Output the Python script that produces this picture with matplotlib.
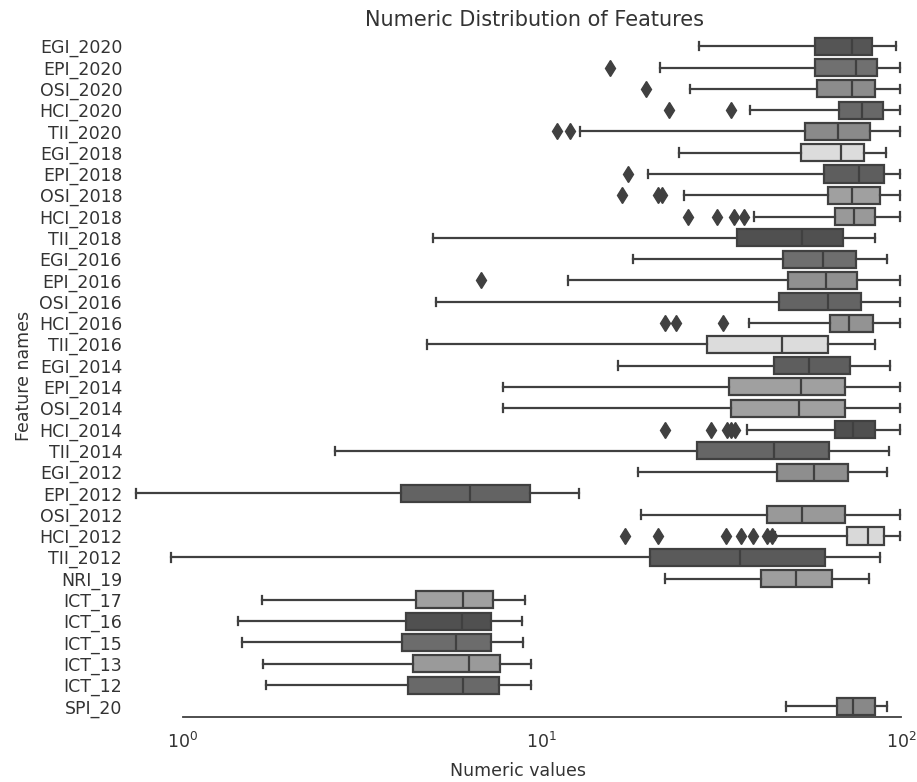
import matplotlib.pyplot as plt

# Feature names, top to bottom
features = ['EGI_2020', 'EPI_2020', 'OSI_2020', 'HCI_2020', 'TII_2020',
            'EGI_2018', 'EPI_2018', 'OSI_2018', 'HCI_2018', 'TII_2018',
            'EGI_2016', 'EPI_2016', 'OSI_2016', 'HCI_2016', 'TII_2016',
            'EGI_2014', 'EPI_2014', 'OSI_2014', 'HCI_2014', 'TII_2014',
            'EGI_2012', 'EPI_2012', 'OSI_2012', 'HCI_2012', 'TII_2012',
            'NRI_19', 'ICT_17', 'ICT_16', 'ICT_15', 'ICT_13', 'ICT_12', 'SPI_20']

# Box statistics
whis_lo = [27.4, 21.3, 25.8, 37.9, 12.8, 24.1, 19.7, 24.9, 39.0, 4.98,
           18.0, 11.8, 5.06, 37.7, 4.80, 16.3, 7.80, 7.80, 37.2, 2.65,
           18.5, 0.743, 18.9, 44.6, 0.93, 22.0, 1.66, 1.43, 1.46, 1.67, 1.71, 48.0]
q1 = [57.6, 57.6, 58.2, 67.2, 54.0, 52.6, 61.1, 62.5, 65.5, 35.0,
      47.0, 48.5, 45.7, 63.4, 28.9, 44.3, 33.2, 33.6, 65.5, 27.0,
      45.2, 4.05, 42.4, 70.8, 20.0, 40.7, 4.45, 4.20, 4.09, 4.38, 4.24, 66.2]
medians = [73.1, 74.8, 72.9, 78.0, 66.6, 68.0, 76.4, 72.9, 74.1, 52.9,
           60.8, 61.8, 62.8, 71.8, 46.5, 55.4, 52.6, 52.1, 73.3, 44.3,
           57.3, 6.30, 52.9, 80.7, 35.6, 51.0, 6.04, 5.99, 5.76, 6.28, 6.04, 73.6]
q3 = [83.0, 85.5, 84.7, 88.9, 82.0, 79.0, 89.9, 87.4, 84.7, 68.8,
      74.8, 75.6, 77.2, 83.7, 62.8, 72.1, 69.8, 69.8, 84.7, 63.0,
      71.3, 9.30, 69.8, 89.9, 61.4, 64.4, 7.31, 7.24, 7.24, 7.67, 7.59, 84.7]
whis_hi = [96.9, 99.4, 99.4, 99.4, 99.4, 90.6, 99.4, 99.4, 99.4, 84.7,
           91.6, 99.4, 99.4, 99.4, 84.7, 93.5, 99.4, 99.4, 99.4, 92.6,
           91.6, 12.7, 99.4, 99.4, 87.4, 81.6, 8.97, 8.78, 8.87, 9.36, 9.36, 91.6]
outliers = [[], [15.5], [19.5], [22.6, 33.7], [11.0, 12.0],
            [], [17.4], [16.7, 21.0, 21.6], [25.6, 30.7, 34.3, 36.6], [],
            [], [6.76], [], [22.1, 23.6, 32.0], [],
            [], [], [], [22.1, 29.5, 32.7, 33.6, 34.5], [],
            [], [], [], [17.1, 21.1, 32.6, 35.8, 38.8, 42.5, 43.8], [],
            [], [], [], [], [], [], []]

box_colors = ['#555555', '#707070', '#8c8c8c', '#686868', '#8a8a8a',
              '#dcdcdc', '#5e5e5e', '#a0a0a0', '#999999', '#505050',
              '#6e6e6e', '#909090', '#646464', '#939393', '#dcdcdc',
              '#5e5e5e', '#a0a0a0', '#a0a0a0', '#4f4f4f', '#666666',
              '#8e8e8e', '#636363', '#999999', '#d9d9d9', '#5a5a5a',
              '#9e9e9e', '#a0a0a0', '#505050', '#6c6c6c', '#9a9a9a', '#696969', '#888888']

stats = []
for i, name in enumerate(features):
    stats.append({'label': name, 'whislo': whis_lo[i], 'q1': q1[i], 'med': medians[i],
                  'q3': q3[i], 'whishi': whis_hi[i], 'fliers': outliers[i]})

line_c = '#404040'
text_c = '#333333'
fig = plt.figure(figsize=(9.17, 7.82), dpi=100)
ax = fig.add_axes([0.1385, 0.0831, 0.8523, 0.8714])

bp = ax.bxp(stats, positions=range(len(features)), widths=0.8, orientation='horizontal',
            patch_artist=True,
            boxprops=dict(edgecolor=line_c, linewidth=1.6),
            whiskerprops=dict(color=line_c, linewidth=1.6),
            capprops=dict(color=line_c, linewidth=1.6),
            medianprops=dict(color=line_c, linewidth=1.6),
            flierprops=dict(marker='d', markerfacecolor=line_c, markeredgecolor=line_c,
                            markersize=8.5, linestyle='none'))
for patch, c in zip(bp['boxes'], box_colors):
    patch.set_facecolor(c)

ax.set_xscale('log')
ax.set_xlim(0.7, 105)
ax.set_ylim(len(features) - 0.5, -0.5)
ax.set_xticks([1, 10, 100])
ax.minorticks_off()
ax.set_yticks(range(len(features)))
ax.set_yticklabels(features)
ax.tick_params(length=0, labelsize=12.5, colors=text_c)
ax.tick_params(axis='x', pad=11)

for s in ['top', 'right', 'left']:
    ax.spines[s].set_visible(False)
ax.spines['bottom'].set_bounds(1, 100)
ax.spines['bottom'].set_color('#404040')
ax.spines['bottom'].set_linewidth(1.3)

ax.set_title("Numeric Distribution of Features", fontsize=15, color=text_c, x=0.522, pad=7)
ax.set_xlabel("Numeric values", fontsize=12.5, color=text_c, labelpad=7)
ax.set_ylabel("Feature names", fontsize=12.5, color=text_c)

fig.savefig('out.png')
